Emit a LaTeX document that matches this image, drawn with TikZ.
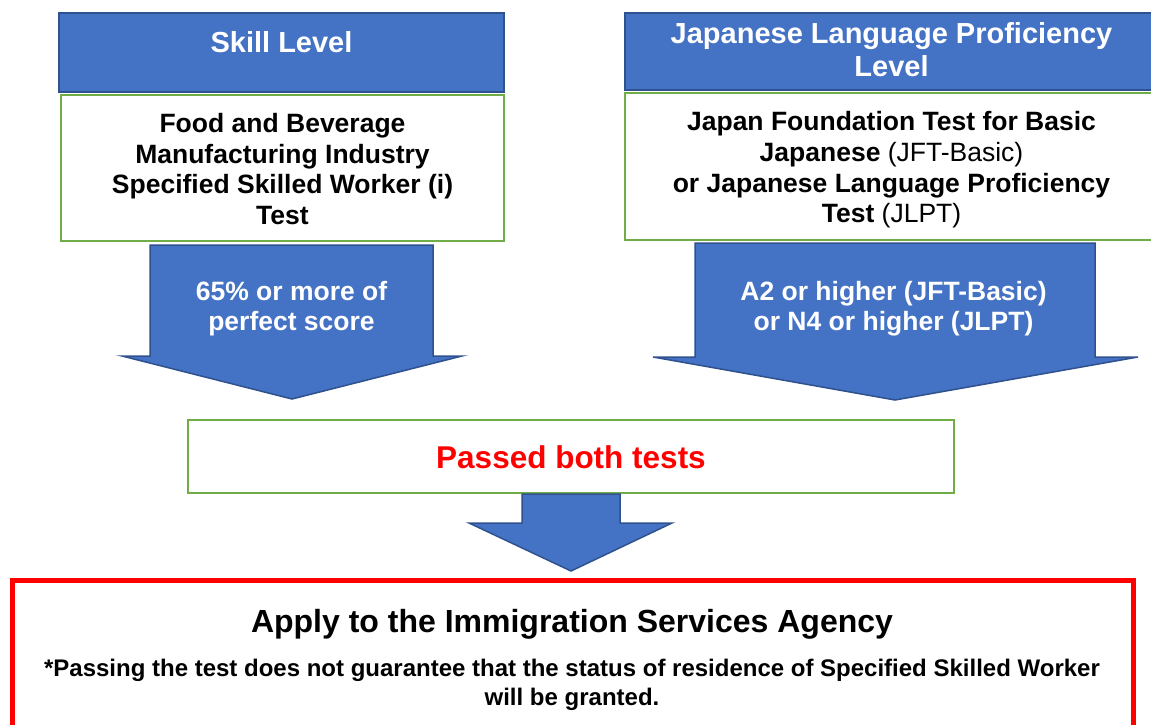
\documentclass[tikz,border=0pt]{standalone}
\usepackage{fontspec}
\setmainfont{Liberation Sans}
\definecolor{ofblue}{HTML}{4472C4}
\definecolor{ofdark}{HTML}{2F528F}
\definecolor{ofgreen}{HTML}{70AD47}
\definecolor{ofred}{HTML}{FF0000}
\begin{document}
\begin{tikzpicture}[
        x=1pt, y=-1pt,
        every node/.style={black, inner sep=0pt, align=center, font=\bfseries},
        hdrbox/.style={draw=ofdark, line width=2pt, fill=ofblue},
        hdrtext/.style={text=white, font=\bfseries\fontsize{29}{33}\selectfont},
        testbox/.style={draw=ofgreen, line width=2.5pt, fill=white},
        testtext/.style={font=\bfseries\fontsize{26.5}{30.7}\selectfont},
        arrowtext/.style={text=white, font=\bfseries\fontsize{26.5}{30}\selectfont},
        bluearrow/.style={draw=ofdark, line width=1.5pt, fill=ofblue, line join=miter}
    ]
    \useasboundingbox (0,0) rectangle (1151,724);
    \clip (0,0) rectangle (1151,724);

    % headers
    \node [hdrbox, minimum width=445pt, minimum height=79pt] (skillhdr) at (281.5,52.5) {};
    \node [hdrtext] (skillhdrtext) at (281.5,42) {Skill Level};
    \node [hdrbox, minimum width=533pt, minimum height=77pt] (langhdr) at (891.5,51.5) {};
    \node [hdrtext] (langhdrtext) at (891.5,49.5) {Japanese Language Proficiency\\Level};

    % tests
    \node [testbox, minimum width=443pt, minimum height=146pt] (skilltest) at (282.5,168) {};
    \node [testtext] (skilltesttext) at (282.5,169)
        {Food and Beverage\\Manufacturing Industry\\Specified Skilled Worker (i)\\Test};
    \node [testbox, minimum width=533pt, minimum height=147pt] (langtest) at (891.5,166.5) {};
    \node [testtext] (langtesttext) at (891.5,170)
        {Japan Foundation Test for Basic\\Japanese \mdseries(JFT-Basic)\\
         or Japanese Language Proficiency\\Test \mdseries(JLPT)};

    % criteria arrows
    \draw [bluearrow] (150,245) -- (433,245) -- (433,356) -- (462,356) -- (292,399)
        -- (122,356) -- (150,356) -- cycle;
    \node [arrowtext] (skillpass) at (291.5,309) {65\% or more of\\perfect score};
    \draw [bluearrow] (695,243) -- (1095,243) -- (1095,357) -- (1138,357) -- (895,400)
        -- (653,357) -- (695,357) -- cycle;
    \node [arrowtext] (langpass) at (893.5,309) {A2 or higher (JFT-Basic)\\or N4 or higher (JLPT)};

    % result
    \node [testbox, minimum width=766pt, minimum height=73pt] (passed) at (571,456.5) {};
    \node [text=ofred, font=\bfseries\fontsize{31.5}{36}\selectfont] (passedtext) at (571,457.5) {Passed both tests};
    \draw [bluearrow] (522,494) -- (620,494) -- (620,523) -- (672,523) -- (571,571)
        -- (469,523) -- (522,523) -- cycle;

    % application
    \node [draw=ofred, line width=5pt, minimum width=1120.5pt, minimum height=155pt] (apply) at (572.75,657.5) {};
    \node [font=\bfseries\fontsize{32}{38}\selectfont] (applytext) at (572,624)
        {Apply to the Immigration Services Agency};
    \node [font=\bfseries\fontsize{24}{29}\selectfont] (note) at (572,685)
        {*Passing the test does not guarantee that the status of residence of Specified Skilled Worker\\will be granted.};
\end{tikzpicture}
\end{document}
